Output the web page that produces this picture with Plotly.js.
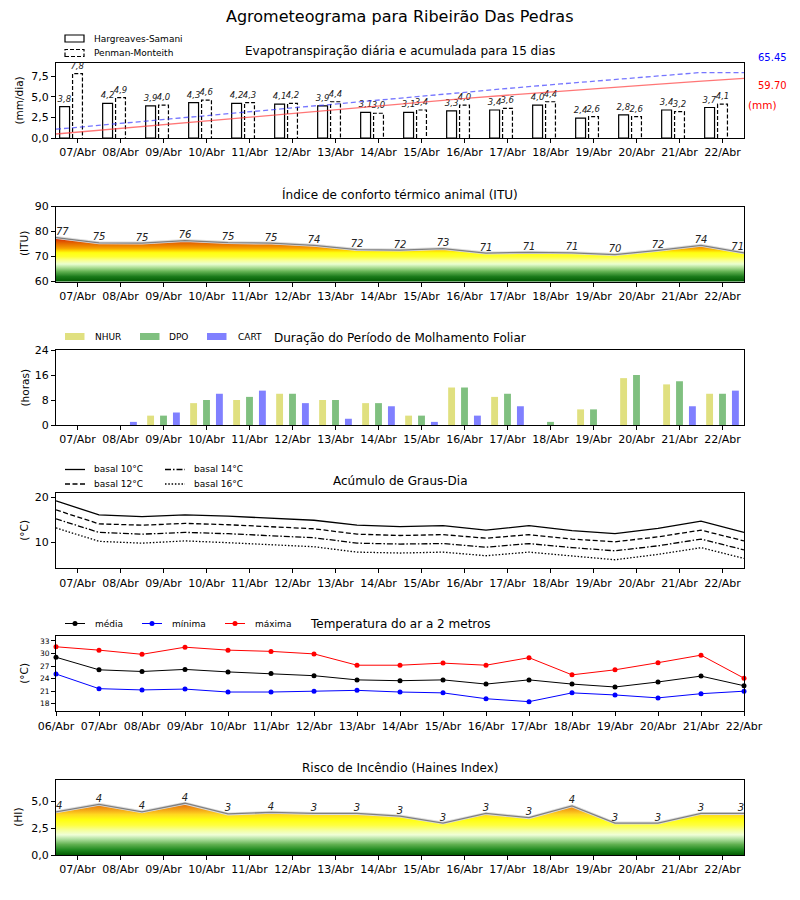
<!DOCTYPE html>
<html><head><meta charset="utf-8">
<script src="https://cdn.plot.ly/plotly-3.0.1.min.js"></script>
<style>body{margin:0;background:#fff;} #c{width:800px;height:900px;}</style>
</head><body><div id="c"></div>
<script>
// ---------- DATA ----------
const dias = ['07/Abr','08/Abr','09/Abr','10/Abr','11/Abr','12/Abr','13/Abr','14/Abr','15/Abr','16/Abr','17/Abr','18/Abr','19/Abr','20/Abr','21/Abr','22/Abr'];
const diasTemp = ['06/Abr','07/Abr','08/Abr','09/Abr','10/Abr','11/Abr','12/Abr','13/Abr','14/Abr','15/Abr','16/Abr','17/Abr','18/Abr','19/Abr','20/Abr','21/Abr','22/Abr'];

const etHargreaves = [3.8,4.2,3.9,4.3,4.2,4.1,3.9,3.1,3.1,3.3,3.4,4.0,2.4,2.8,3.4,3.7];
const etPenman     = [7.8,4.9,4.0,4.6,4.3,4.2,4.4,3.0,3.4,4.0,3.6,4.4,2.6,2.6,3.2,4.1];
const acumHargreaves = [4.0,8.0,12.1,16.3,20.4,24.4,28.3,32.4,36.5,40.0,43.5,47.0,50.4,53.6,56.7,59.70];
const acumPenman     = [8.8,13.0,17.0,21.3,25.5,29.7,34.0,38.0,42.6,46.5,50.3,54.2,58.0,61.8,65.45,65.45];

const itu = [77.6,75.5,75.4,76.4,75.6,75.4,74.5,72.8,72.6,73.2,71.4,71.7,71.5,70.8,72.5,74.5,71.5];

const nhur = [0,0,3,7,8,10,8,7,3,12,9,0,5,15,13,10];
const dpo  = [0,0,3,8,9,10,8,7,3,12,10,1,5,16,14,10];
const cart = [0,1,4,10,11,7,2,6,1,3,6,0,0,0,6,11];

const gd10 = [19.2,16.1,15.7,16.1,15.8,15.4,14.9,13.8,13.5,13.7,12.7,13.7,12.6,11.9,13.1,14.7,12.2];
const gd12 = [17.2,14.1,13.8,14.2,13.9,13.4,13.0,11.8,11.5,11.7,10.9,11.7,10.7,10.1,11.2,12.7,10.3];
const gd14 = [15.2,12.2,11.8,12.2,11.9,11.5,11.0,9.8,9.6,9.7,8.9,9.7,8.8,8.1,9.2,10.7,8.3];
const gd16 = [13.2,10.2,9.8,10.3,9.9,9.5,9.0,7.8,7.6,7.8,7.0,7.8,6.9,6.1,7.3,8.8,6.4];

const tMedia  = [29.1,26.1,25.7,26.2,25.6,25.2,24.7,23.7,23.5,23.7,22.7,23.7,22.7,22.0,23.2,24.6,22.3];
const tMinima = [25.1,21.6,21.3,21.5,20.8,20.8,21.0,21.2,20.8,20.6,19.2,18.5,20.6,20.1,19.4,20.4,21.0];
const tMaxima = [31.6,30.8,29.8,31.5,30.8,30.5,29.9,27.2,27.2,27.7,27.2,29.0,24.9,26.1,27.8,29.6,24.1];

const haines = [4.05,4.75,4.05,4.85,3.85,4.0,3.9,3.9,3.65,3.0,3.9,3.5,4.6,3.0,3.0,3.9,3.9];

// ---------- HELPERS ----------
const FONT = 'DejaVu Sans, sans-serif';
const W = 800, H = 900;
const px = x => x / W;
const py = y => 1 - y / H;
const idx = dias.map((d, i) => i);
const idx17 = diasTemp.map((d, i) => i - 0.5);
const fmt1 = v => v.toFixed(1).replace('.', ',');
const tops = [63, 206.6, 350, 493.3, 636.3, 780.2];
const dom = t => [1 - (t + 75) / H, 1 - t / H];

const traces = [];

// ---- Panel 1: ET ----
traces.push({type:'bar', x: idx, y: etHargreaves, width: 0.23, offset: -0.415,
  marker:{color:'white', line:{color:'black', width:1.2}},
  text: etHargreaves.map(fmt1), textposition:'outside', constraintext:'none', cliponaxis:false,
  textfont:{family:FONT, size:8.5, style:'italic', color:'#222'},
  xaxis:'x', yaxis:'y', hoverinfo:'skip'});
traces.push({type:'bar', x: idx, y: etPenman, width: 0.23, offset: -0.115,
  marker:{color:'white', line:{color:'rgba(0,0,0,0)', width:0}},
  text: etPenman.map(fmt1), textposition:'outside', constraintext:'none', cliponaxis:false,
  textfont:{family:FONT, size:8.5, style:'italic', color:'#222'},
  xaxis:'x', yaxis:'y', hoverinfo:'skip'});
(function(){
  const xs = [], ys = [], w = 0.115;
  etPenman.forEach((v, i) => { xs.push(i-w, i-w, i+w, i+w, null); ys.push(0, v, v, 0, null); });
  traces.push({type:'scatter', mode:'lines', x: xs, y: ys, line:{color:'black', width:1.2, dash:'4px,2px'},
    xaxis:'x', yaxis:'y', hoverinfo:'skip', cliponaxis:false});
})();
traces.push({type:'scatter', mode:'lines', x: idx, y: acumPenman, line:{color:'rgba(60,60,255,0.7)', width:1.3, dash:'5px,3px'}, xaxis:'x7', yaxis:'y7', hoverinfo:'skip'});
traces.push({type:'scatter', mode:'lines', x: idx, y: acumHargreaves, line:{color:'rgba(255,60,60,0.7)', width:1.3}, xaxis:'x7', yaxis:'y7', hoverinfo:'skip'});

// ---- Panel 2: ITU ----
traces.push({type:'scatter', mode:'lines', x: idx17, y: itu, fill:'tozeroy',
  fillgradient:{type:'vertical', start:60, stop:78, colorscale:[
    [0,'#005a00'],[0.11,'#1a7a1a'],[0.22,'#60b050'],[0.305,'#a8dc90'],[0.39,'#eaffd0'],[0.47,'#f8ff90'],
    [0.555,'#ffff30'],[0.64,'#ffff10'],[0.69,'#ffd400'],[0.73,'#f8aa00'],[0.78,'#f08c00'],[0.833,'#e87200'],
    [0.89,'#e05500'],[0.944,'#d83000'],[1,'#cc0000']]},
  line:{color:'#dcdcdc', width:3}, xaxis:'x2', yaxis:'y2', hoverinfo:'skip'});
traces.push({type:'scatter', mode:'lines+text', x: idx17, y: itu, line:{color:'#808080', width:1.3},
  text: itu.map(v => String(Math.floor(v))),
  textposition: itu.map((v, i) => i === 0 ? 'top right' : (i === itu.length-1 ? 'top left' : 'top center')),
  textfont:{family:FONT, size:10, style:'italic', color:'#222'}, cliponaxis:false,
  xaxis:'x2', yaxis:'y2', hoverinfo:'skip'});

// ---- Panel 3: Molhamento ----
[[nhur,'#e0e080',-0.38],[dpo,'#80c080',-0.08],[cart,'#8080ff',0.22]].forEach(([d,c,o]) => {
  traces.push({type:'bar', x: idx, y: d, width:0.16, offset:o, marker:{color:c, line:{width:0}},
    xaxis:'x3', yaxis:'y3', hoverinfo:'skip'});
});

// ---- Panel 4: Graus-Dia ----
[[gd10,'solid'],[gd12,'5px,2.5px'],[gd14,'6px,2px,1.5px,2px'],[gd16,'1.5px,1.8px']].forEach(([d,ds]) => {
  traces.push({type:'scatter', mode:'lines', x: idx17, y: d, line:{color:'black', width:1.3, dash:ds},
    xaxis:'x4', yaxis:'y4', hoverinfo:'skip'});
});

// ---- Panel 5: Temperatura ----
[[tMedia,'black'],[tMinima,'#0000ff'],[tMaxima,'#ff0000']].forEach(([d,c]) => {
  traces.push({type:'scatter', mode:'lines+markers', x: idx17, y: d, line:{color:c, width:1},
    marker:{color:c, size:5}, cliponaxis:false, xaxis:'x5', yaxis:'y5', hoverinfo:'skip'});
});

// ---- Panel 6: Haines ----
traces.push({type:'scatter', mode:'lines', x: idx17, y: haines, fill:'tozeroy',
  fillgradient:{type:'vertical', start:0, stop:5, colorscale:[
    [0,'#005a00'],[0.1,'#208a20'],[0.2,'#60b050'],[0.3,'#b0e0a0'],[0.38,'#f0ffd8'],[0.46,'#f4ffa0'],
    [0.56,'#ffff40'],[0.66,'#ffff10'],[0.76,'#ffd820'],[0.84,'#f5a818'],[0.92,'#e88010'],[1,'#d86010']]},
  line:{color:'#dcdcdc', width:3}, xaxis:'x6', yaxis:'y6', hoverinfo:'skip'});
traces.push({type:'scatter', mode:'lines+text', x: idx17, y: haines, line:{color:'#808080', width:1.3},
  text: haines.map(v => String(Math.floor(v))),
  textposition: haines.map((v, i) => i === 0 ? 'top right' : (i === haines.length-1 ? 'top left' : 'top center')),
  textfont:{family:FONT, size:10, style:'italic', color:'#222'}, cliponaxis:false,
  xaxis:'x6', yaxis:'y6', hoverinfo:'skip'});

// ---------- LAYOUT ----------
const axBase = {showline:true, mirror:true, linecolor:'black', linewidth:1, ticks:'outside', ticklen:4,
  tickcolor:'black', tickwidth:1, showgrid:false, zeroline:false, fixedrange:true,
  tickfont:{family:FONT, size:11, color:'black'}};
const layout = {width:W, height:H, margin:{l:0,r:0,t:0,b:0}, paper_bgcolor:'white', plot_bgcolor:'white',
  showlegend:false, barmode:'overlay', separators:',.', font:{family:FONT, color:'black'},
  annotations:[], shapes:[]};

const yCfg = [
  {range:[0,9.1], tickvals:[0,2.5,5,7.5], tickformat:'.1f'},
  {range:[60,90], tickvals:[60,70,80,90]},
  {range:[0,24], tickvals:[0,8,16,24]},
  {range:[4.2,20.9], tickvals:[10,20]},
  {range:[16.2,34.1], tickvals:[18,21,24,27,30,33], tickfont:{family:FONT, size:7.5, color:'black'}},
  {range:[0,7], tickvals:[0,2.5,5], tickformat:'.1f'}
];
for (let k = 0; k < 6; k++) {
  const s = k === 0 ? '' : String(k+1);
  const isTemp = (k === 4);
  layout['xaxis'+s] = Object.assign({}, axBase, {domain:[px(56), px(744)], anchor:'y'+s, range:[-0.5,15.5],
    tickvals: isTemp ? idx17 : idx, ticktext: isTemp ? diasTemp : dias});
  layout['yaxis'+s] = Object.assign({}, axBase, {domain: dom(tops[k]), anchor:'x'+s}, yCfg[k]);
}
layout.xaxis7 = {overlaying:'x', range:[0,15], visible:false, fixedrange:true};
layout.yaxis7 = {overlaying:'y', range:[0,75.2], visible:false, side:'right', fixedrange:true};

function ann(text, x, y, opts) {
  layout.annotations.push(Object.assign({text, x:px(x), y:py(y), xref:'paper', yref:'paper', showarrow:false,
    xanchor:'center', yanchor:'middle', font:{family:FONT, size:12, color:'black'}}, opts||{}));
}
// titles
ann('Agrometeograma para Ribeirão Das Pedras', 400, 17, {font:{family:FONT, size:16, color:'black'}});
const titles = ['Evapotranspiração diária e acumulada para 15 dias','Índice de conforto térmico animal (ITU)',
  'Duração do Período de Molhamento Foliar','Acúmulo de Graus-Dia','Temperatura do ar a 2 metros','Risco de Incêndio (Haines Index)'];
titles.forEach((t, k) => ann(t, 400, tops[k] - 12.5));
// y titles
const yt = [['(mm/dia)',18],['(ITU)',24],['(horas)',24],['(°C)',24],['(°C)',24],['(HI)',18]];
yt.forEach(([t,x], k) => ann(t, x, tops[k] + 37.5, {textangle:-90, font:{family:FONT, size:10.5, color:'black'}}));
// ET right labels
ann(acumPenman[acumPenman.length-1].toFixed(2), 756, 57, {xanchor:'left', font:{family:FONT, size:10, color:'#0000ff'}});
ann(acumHargreaves[acumHargreaves.length-1].toFixed(2), 756, 85.5, {xanchor:'left', font:{family:FONT, size:10, color:'#ff0000'}});
ann('(mm)', 746, 105, {xanchor:'left', font:{family:FONT, size:10.5, color:'#ff0000'}});

// legends
const lf = {family:FONT, size:9, color:'black'};
function rect(x0,y0,x1,y1,line,fill) {
  layout.shapes.push({type:'rect', xref:'paper', yref:'paper', x0:px(x0), x1:px(x1), y0:py(y1), y1:py(y0), line, fillcolor:fill});
}
function seg(x0,x1,y,line) {
  layout.shapes.push({type:'line', xref:'paper', yref:'paper', x0:px(x0), x1:px(x1), y0:py(y), y1:py(y), line});
}
function dot(x,y,c) {
  layout.shapes.push({type:'circle', xref:'paper', yref:'paper', x0:px(x-2.5), x1:px(x+2.5), y0:py(y+2.5), y1:py(y-2.5), line:{width:0}, fillcolor:c});
}
// ET legend
rect(65,35,84,42,{color:'black', width:1.2},'white');
rect(65,49.5,84,56.5,{color:'black', width:1.2, dash:'4px,2px'},'white');
ann('Hargreaves-Samani', 92, 38.5, {xanchor:'left', font:lf});
ann('Penman-Monteith', 92, 53, {xanchor:'left', font:lf});
// Molhamento legend
[['NHUR','#e0e080',65,93],['DPO','#80c080',140,167],['CART','#8080ff',207,236]].forEach(([t,c,x,tx]) => {
  rect(x,333,x+19.5,340,{width:0},c);
  ann(t, tx, 336.5, {xanchor:'left', font:lf});
});
// Graus-Dia legend
[['basal 10°C','solid',65,469.5],['basal 12°C','5px,2.5px',65,484],['basal 14°C','6px,2px,1.5px,2px',165,469.5],['basal 16°C','1.5px,1.8px',165,484]].forEach(([t,ds,x,y]) => {
  seg(x, x+20, y, {color:'black', width:1.3, dash:ds});
  ann(t, x+27, y, {xanchor:'left', font:lf});
});
// Temperatura legend
[['média','black',65,93],['mínima','#0000ff',142,170],['máxima','#ff0000',225,253]].forEach(([t,c,x,tx]) => {
  seg(x, x+20, 623.5, {color:c, width:1});
  dot(x+10, 623.5, c);
  ann(t, tx, 623.5, {xanchor:'left', font:lf});
});

Plotly.newPlot('c', traces, layout, {staticPlot:true, displayModeBar:false});
</script>
</body></html>
